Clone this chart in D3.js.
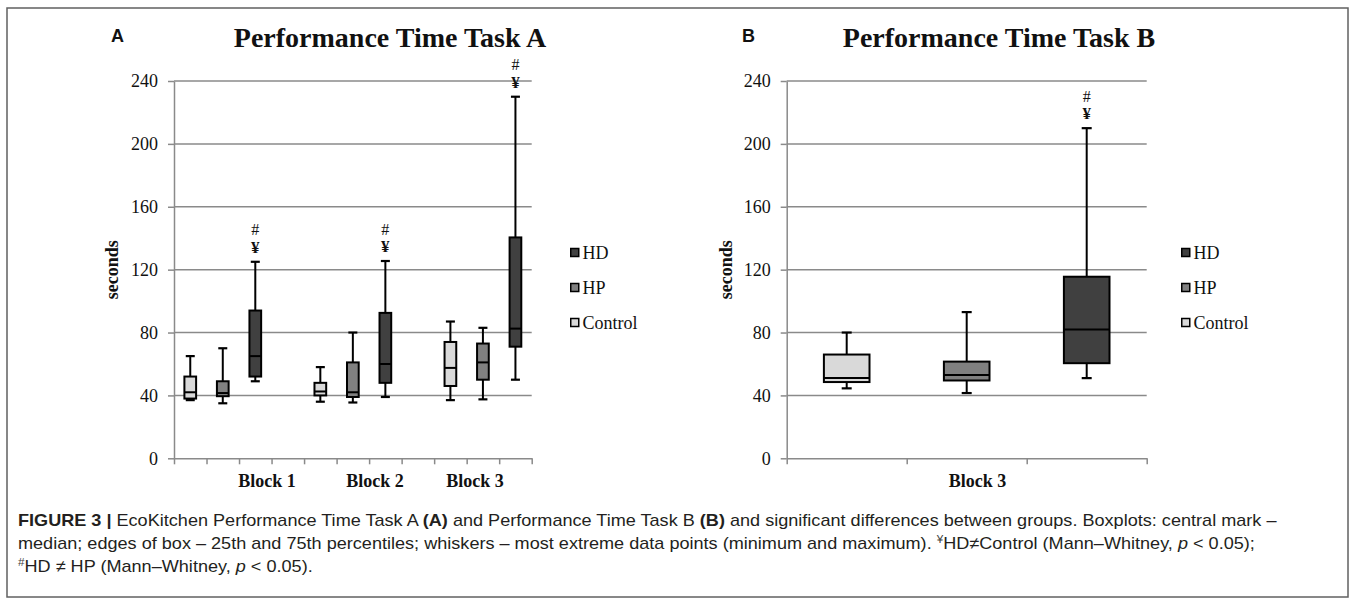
<!DOCTYPE html>
<html><head><meta charset="utf-8">
<script src="https://cdn.jsdelivr.net/npm/d3@7"></script>
<style>html,body{margin:0;padding:0;background:#fff;} svg{display:block}</style>
</head><body>
<svg id="chart" width="1357" height="604"></svg>
<script>
// ---------------- DATA ----------------
const groups = ['Control', 'HP', 'HD'];
const legendOrder = ['HD', 'HP', 'Control'];
const blocksA = ['Block 1', 'Block 2', 'Block 3'];
const blocksB = ['Block 3'];
const yTicks = [0, 40, 80, 120, 160, 200, 240];
// each box: [min, q1, median, q3, max], one per block
const controlA = [[37, 38, 42, 52, 65], [36, 40, 42.5, 48, 58], [37, 46, 57.5, 74, 87]];
const hpA      = [[35, 39.5, 41.5, 49, 70], [35.5, 39, 42, 61, 80], [37.5, 50, 61, 73, 83]];
const hdA      = [[49, 52, 65, 94, 125], [39, 48, 60, 92.5, 125.5], [50, 71, 82.5, 140.5, 230]];
const controlB = [[44.5, 48.5, 51, 66, 80]];
const hpB      = [[41.5, 49.5, 53, 61.5, 93]];
const hdB      = [[51, 60.5, 82, 115.5, 210]];
const sigA = [['#', '¥'], ['#', '¥'], ['#', '¥']];   // marks above HD box per block
const sigB = [['#', '¥']];

// ---------------- STYLE / LAYOUT ----------------
const COLORS = { Control: '#d9d9d9', HP: '#808080', HD: '#404040' };
const GRID = '#8a8a8a';
const SERIF = '"Liberation Serif","Times New Roman",serif';
const SANS = '"Liberation Sans",Arial,sans-serif';
const TXT = '#111';

const svg = d3.select('#chart');
svg.append('rect').attr('x', 7).attr('y', 8).attr('width', 1341).attr('height', 589)
  .attr('fill', 'none').attr('stroke', '#606060').attr('stroke-width', 1.5);

const y = d3.scaleLinear().domain([0, 240]).range([458.3, 81]);

function buildSlots(blocks, gap) {
  const slots = [];
  blocks.forEach((b, bi) => {
    groups.forEach(gname => slots.push({ key: b + '|' + gname, block: bi, group: gname }));
    if (gap && bi < blocks.length - 1) slots.push({ key: b + '|gap', block: bi, group: null });
  });
  return slots;
}

function drawPanel(cfg) {
  const g = svg.append('g');
  const slots = buildSlots(cfg.blocks, cfg.gap);
  const xb = d3.scaleBand().domain(slots.map(s => s.key)).range([cfg.left, cfg.right]);
  const xi = d3.scaleLinear().domain([0, slots.length]).range([cfg.left, cfg.right]);

  // gridlines
  g.append('g').selectAll('line').data(yTicks.filter(d => d > 0)).join('line')
    .attr('x1', cfg.left).attr('x2', cfg.right)
    .attr('y1', d => y(d)).attr('y2', d => y(d))
    .attr('stroke', GRID).attr('stroke-width', 1.5);

  // y axis
  const ya = g.append('g').attr('transform', `translate(${cfg.left},0)`)
    .call(d3.axisLeft(y).tickValues(yTicks).tickSize(6).tickSizeOuter(0).tickPadding(10).tickFormat(d3.format('d')));
  ya.select('.domain').attr('stroke', GRID).attr('stroke-width', 1.5);
  ya.selectAll('.tick line').attr('stroke', GRID).attr('stroke-width', 1.5);
  ya.selectAll('.tick text').attr('font-family', SERIF).attr('font-size', 18).attr('fill', TXT);

  // x axis (ticks on category boundaries)
  const xa = g.append('g').attr('transform', `translate(0,${y(0)})`)
    .call(d3.axisBottom(xi).tickValues(d3.range(slots.length + 1)).tickSize(6).tickSizeOuter(0).tickFormat(''));
  xa.select('.domain').attr('stroke', GRID).attr('stroke-width', 1.5);
  xa.selectAll('.tick line').attr('stroke', GRID).attr('stroke-width', 1.5);

  // block labels
  g.selectAll('text.blk').data(cfg.blocks).join('text').attr('class', 'blk')
    .attr('x', (d, i) => xi(cfg.blockLabelSlot[i])).attr('y', 487)
    .attr('text-anchor', 'middle').attr('font-family', SERIF).attr('font-weight', 'bold')
    .attr('font-size', 18).attr('fill', TXT).text(d => d);

  // y label
  g.append('text').attr('transform', `translate(${cfg.yLabelX},${(y(0) + y(240)) / 2}) rotate(-90)`)
    .attr('text-anchor', 'middle').attr('font-family', SERIF).attr('font-weight', 'bold')
    .attr('font-size', 18).attr('fill', TXT).text('seconds');

  // boxes
  const boxData = [];
  cfg.blocks.forEach((b, bi) => {
    groups.forEach(gname => boxData.push({ key: b + '|' + gname, group: gname, v: cfg.series[gname][bi] }));
  });
  const bw = xb.bandwidth() * cfg.boxFrac;
  const cap = cfg.cap;
  const bx = g.selectAll('g.box').data(boxData).join('g').attr('class', 'box');
  const cx = d => xb(d.key) + xb.bandwidth() / 2;
  bx.append('line').attr('x1', cx).attr('x2', cx).attr('y1', d => y(d.v[0])).attr('y2', d => y(d.v[1]))
    .attr('stroke', '#000').attr('stroke-width', 2);
  bx.append('line').attr('x1', cx).attr('x2', cx).attr('y1', d => y(d.v[3])).attr('y2', d => y(d.v[4]))
    .attr('stroke', '#000').attr('stroke-width', 2);
  bx.append('line').attr('x1', d => cx(d) - cap / 2).attr('x2', d => cx(d) + cap / 2)
    .attr('y1', d => y(d.v[0])).attr('y2', d => y(d.v[0])).attr('stroke', '#000').attr('stroke-width', 2.2);
  bx.append('line').attr('x1', d => cx(d) - cap / 2).attr('x2', d => cx(d) + cap / 2)
    .attr('y1', d => y(d.v[4])).attr('y2', d => y(d.v[4])).attr('stroke', '#000').attr('stroke-width', 2.2);
  bx.append('rect').attr('x', d => cx(d) - bw / 2).attr('width', bw)
    .attr('y', d => y(d.v[3])).attr('height', d => y(d.v[1]) - y(d.v[3]))
    .attr('fill', d => COLORS[d.group]).attr('stroke', '#000').attr('stroke-width', 2);
  bx.append('line').attr('x1', d => cx(d) - bw / 2).attr('x2', d => cx(d) + bw / 2)
    .attr('y1', d => y(d.v[2])).attr('y2', d => y(d.v[2])).attr('stroke', '#000').attr('stroke-width', 2);

  // significance marks above HD boxes
  cfg.blocks.forEach((b, bi) => {
    const marks = cfg.sig[bi];
    if (!marks) return;
    const d = boxData.find(o => o.key === b + '|HD');
    const top = y(d.v[4]);
    g.append('text').attr('x', cx(d)).attr('y', top - 14.5).attr('dominant-baseline', 'central')
      .attr('text-anchor', 'middle').attr('font-family', SERIF).attr('font-weight', 'bold')
      .attr('font-size', 17).attr('fill', TXT).text(marks[1]);
    g.append('text').attr('x', cx(d)).attr('y', top - 32).attr('dominant-baseline', 'central')
      .attr('text-anchor', 'middle').attr('font-family', SERIF)
      .attr('font-size', 16).attr('fill', TXT).text(marks[0]);
  });

  // legend
  const lg = g.append('g');
  legendOrder.forEach((name, i) => {
    const ly = 253 + i * 35;
    lg.append('rect').attr('x', cfg.legendX + 0.75).attr('y', ly - 4.5).attr('width', 8).attr('height', 8)
      .attr('fill', COLORS[name]).attr('stroke', '#000').attr('stroke-width', 1.5);
    lg.append('text').attr('x', cfg.legendX + 12.5).attr('y', ly).attr('dominant-baseline', 'central')
      .attr('font-family', SERIF).attr('font-size', 18).attr('fill', TXT).text(name);
  });

  // titles
  g.append('text').attr('x', cfg.titleX).attr('y', 46.5).attr('text-anchor', 'middle')
    .attr('font-family', SERIF).attr('font-weight', 'bold').attr('font-size', 28).attr('fill', TXT)
    .text(cfg.title);
  g.append('text').attr('x', cfg.letterX).attr('y', 41.5)
    .attr('font-family', SANS).attr('font-weight', 'bold').attr('font-size', 18).attr('fill', TXT)
    .text(cfg.letter);
}

drawPanel({
  blocks: blocksA, gap: true, left: 174, right: 531.7,
  series: { Control: controlA, HP: hpA, HD: hdA }, sig: sigA,
  blockLabelSlot: [2.86, 6.18, 9.26], boxFrac: 0.36, cap: 9,
  yLabelX: 118, legendX: 570, titleX: 390, title: 'Performance Time Task A',
  letterX: 111, letter: 'A'
});
drawPanel({
  blocks: blocksB, gap: false, left: 786.7, right: 1146.7,
  series: { Control: controlB, HP: hpB, HD: hdB }, sig: sigB,
  blockLabelSlot: [1.59], boxFrac: 0.38, cap: 10,
  yLabelX: 732, legendX: 1181, titleX: 999, title: 'Performance Time Task B',
  letterX: 742, letter: 'B'
});

// ---------------- CAPTION ----------------
function captionLine(yPos, parts) {
  const t = svg.append('text').attr('font-family', SANS).attr('font-size', 17).attr('fill', '#231f20');
  parts.forEach(p => {
    const ts = t.append('tspan').text(p.t);
    if (p.b) ts.attr('font-weight', 'bold');
    if (p.i) ts.attr('font-style', 'italic');
    if (p.sup) ts.attr('font-size', 11).attr('dy', -6).attr('fill', '#444');
    if (p.after) ts.attr('dy', 6);
  });
  return { t, y: yPos, w: t.node().getComputedTextLength() };
}
const cap1 = captionLine(525.5, [
  { t: 'FIGURE 3 |', b: true },
  { t: ' EcoKitchen Performance Time Task A ' }, { t: '(A)', b: true },
  { t: ' and Performance Time Task B ' }, { t: '(B)', b: true },
  { t: ' and significant differences between groups. Boxplots: central mark –' }
]);
const cap2 = captionLine(548.5, [
  { t: 'median; edges of box – 25th and 75th percentiles; whiskers – most extreme data points (minimum and maximum). ' },
  { t: '¥', sup: true }, { t: 'HD≠Control (Mann–Whitney, ', after: true }, { t: 'p', i: true }, { t: ' < 0.05);' }
]);
const cap3 = captionLine(571.5, [
  { t: '#', sup: true }, { t: 'HD ≠ HP (Mann–Whitney, ', after: true }, { t: 'p', i: true }, { t: ' < 0.05).' }
]);
const capScale = 1259 / cap1.w;
[cap1, cap2, cap3].forEach(c => c.t.attr('transform', `translate(18,${c.y}) scale(${capScale},1)`));
</script>
</body></html>
